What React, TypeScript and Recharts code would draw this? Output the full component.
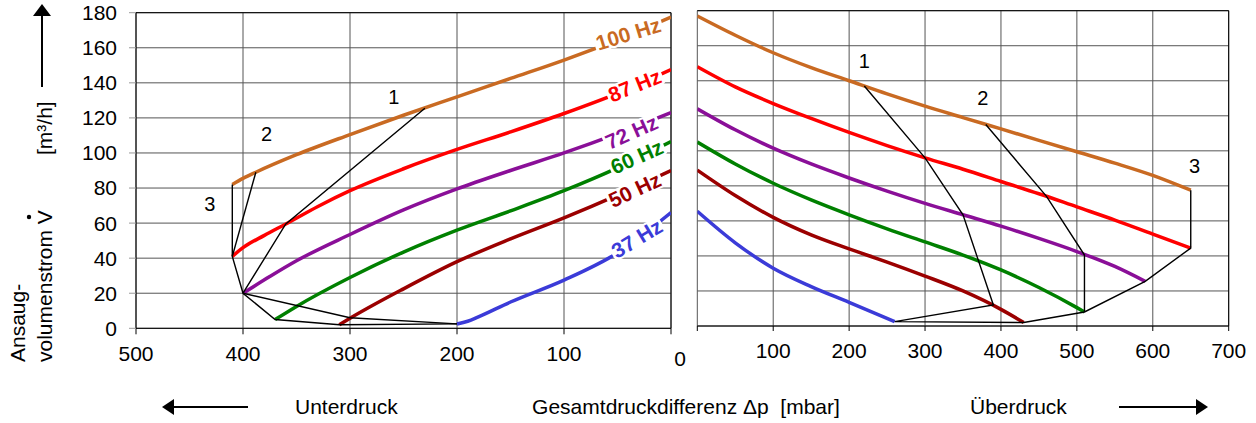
import React from 'react';
import { LineChart, Line, XAxis, YAxis, CartesianGrid, ReferenceLine, ReferenceDot } from 'recharts';

const FONT = '"Liberation Sans", Arial, Helvetica, sans-serif';

// frequencies (curve names) and colours
const freqs = ['100 Hz', '87 Hz', '72 Hz', '60 Hz', '50 Hz', '37 Hz'];
const colors = ['#C96A22', '#FF0000', '#8A0F98', '#008000', '#9B0000', '#3B3BD8'];

// axis ticks
const yTicks = [0, 20, 40, 60, 80, 100, 120, 140, 160, 180];
const vacTicks = [0, 100, 200, 300, 400, 500];
const presTicks = [0, 100, 200, 300, 400, 500, 600, 700];

// Unterdruck (left panel) – x = pressure difference in mbar, y = m³/h
const vac100X = [410, 400, 388, 350, 300, 250, 200, 150, 100, 50, 0];
const vac100Y = [82, 85.5, 89, 99, 110.5, 121.5, 132, 142.5, 153, 164.5, 177.5];
const vac87X = [410, 400, 380, 360, 330, 300, 250, 200, 150, 100, 50, 0];
const vac87Y = [41, 46, 53, 59.5, 69.5, 78.5, 91, 102, 112, 122.5, 134, 147.5];
const vac72X = [400, 375, 350, 300, 250, 200, 150, 100, 50, 0];
const vac72Y = [20, 29.5, 38.5, 53.5, 67.5, 79.5, 90, 100, 111, 123];
const vac60X = [370, 350, 300, 250, 200, 150, 100, 50, 0];
const vac60Y = [5, 12.5, 29, 43.5, 56, 67, 78.5, 91.5, 106.5];
const vac50X = [310, 300, 250, 200, 150, 100, 50, 0];
const vac50Y = [2, 5.7, 22.5, 38, 51, 63, 76, 90];
const vac37X = [200, 190, 180, 150, 100, 50, 0];
const vac37Y = [2.5, 4, 6.5, 15, 27.5, 43, 66];

// Überdruck (right panel)
const pres100X = [0, 50, 100, 150, 200, 250, 300, 350, 400, 450, 500, 550, 600, 650];
const pres100Y = [177, 166, 156, 147.5, 140, 132.5, 125.5, 119, 112.5, 106, 99.5, 93, 86, 77.5];
const pres87X = [0, 50, 100, 150, 200, 250, 300, 350, 400, 450, 500, 550, 600, 650];
const pres87Y = [148, 136.5, 127, 118.5, 110.5, 103, 96, 89.5, 82.5, 75.5, 68, 60.5, 52.5, 44.5];
const pres72X = [0, 50, 100, 150, 200, 250, 300, 350, 400, 450, 500, 550, 590];
const pres72Y = [124, 112, 101.5, 92.5, 84.5, 77, 70, 63.5, 57, 50, 42.5, 34, 25.5];
const pres60X = [0, 50, 100, 150, 200, 250, 300, 350, 400, 450, 500, 510];
const pres60Y = [105, 92.5, 81.5, 72, 63.5, 55.5, 48, 40.5, 32, 22, 10.5, 8];
const pres50X = [0, 50, 100, 150, 200, 250, 300, 350, 400, 430];
const pres50Y = [89, 74.5, 62, 52, 44, 36.5, 28.5, 20, 9.5, 2];
const pres37X = [0, 50, 100, 150, 200, 260];
const pres37Y = [65.5, 47.5, 33, 22.5, 13.5, 2.5];

// black operating-limit lines, left
const vacL1X = [230, 360, 400];
const vacL1Y = [125.5, 59.5, 20];
const vacL2X = [388, 410];
const vacL2Y = [89, 41];
const vacL3X = [410, 410, 400, 370, 310, 200];
const vacL3Y = [82, 41, 20, 5, 2, 2.5];
const vacL4X = [400, 300, 200];
const vacL4Y = [20, 6, 2.5];

// black operating-limit lines, right
const presL1X = [220, 300, 350, 390, 260, 430, 510, 590, 650, 650];
const presL1Y = [137, 96, 63.5, 12, 2.5, 2, 8, 25.5, 44.5, 77.5];
const presL2X = [380, 460, 510, 510];
const presL2Y = [115, 74, 40.5, 8];

// region numbers
const markText = ['1', '2', '3'];
const vacMarkX = [259, 378, 431];
const vacMarkY = [132, 111, 71];
const presMarkX = [220, 376, 655];
const presMarkY = [151, 130, 91.5];

// frequency labels on the left panel (data coords)
const hzLabelX = [40, 34, 37, 32, 34, 32];
const hzLabelY = [168, 138.5, 112, 97.8, 79, 51.3];
const hzAngle = [17, 22, 24, 24, 25, 31];

const pts = (xs: number[], ys: number[]) => xs.map((x, i) => ({ x, y: ys[i] }));

const vacCurves = [
  pts(vac100X, vac100Y), pts(vac87X, vac87Y), pts(vac72X, vac72Y),
  pts(vac60X, vac60Y), pts(vac50X, vac50Y), pts(vac37X, vac37Y),
];
const presCurves = [
  pts(pres100X, pres100Y), pts(pres87X, pres87Y), pts(pres72X, pres72Y),
  pts(pres60X, pres60Y), pts(pres50X, pres50Y), pts(pres37X, pres37Y),
];
const vacLimits = [pts(vacL1X, vacL1Y), pts(vacL2X, vacL2Y), pts(vacL3X, vacL3Y), pts(vacL4X, vacL4Y)];
const presLimits = [pts(presL1X, presL1Y), pts(presL2X, presL2Y)];

const FS = 21;
const tickStyle = { fontSize: FS, fill: '#000', fontFamily: FONT };
const hideZero = (v: number) => (v === 0 ? '' : String(v));

// rough bold Arial advance widths, for the white box behind the Hz labels
const boldWidth = (s: string) =>
  s.split('').reduce((w, c) => w + (c === ' ' ? 0.278 : c === 'H' ? 0.722 : c === 'z' ? 0.5 : 0.556), 0);

function markShape(text: string) {
  return (p: any) => (
    <text x={p.cx} y={p.cy} textAnchor="middle" dominantBaseline="central" fontSize={20} fontFamily={FONT} fill="#000">
      {text}
    </text>
  );
}

function hzShape(text: string, color: string, angle: number) {
  const fs = 21;
  const w = boldWidth(text) * fs;
  return (p: any) => (
    <g transform={`translate(${p.cx} ${p.cy}) rotate(${-angle})`}>
      <rect x={-w / 2 - 2} y={-fs * 0.42} width={w + 4} height={fs * 0.84} fill="#fff" />
      <text
        x={0}
        y={0}
        textAnchor="middle"
        dominantBaseline="central"
        fontSize={fs}
        fontWeight="bold"
        fontFamily={FONT}
        fill={color}
        stroke="#fff"
        strokeWidth={4}
        strokeLinejoin="round"
        style={{ paintOrder: 'stroke' }}
      >
        {text}
      </text>
    </g>
  );
}

export default function App() {
  return (
    <div style={{ position: 'absolute', left: 0, top: 0, width: 1256, height: 423, background: '#fff', fontFamily: FONT }}>
      {/* Unterdruck */}
      <div style={{ position: 'absolute', left: 0, top: 0 }}>
        <LineChart width={680} height={380} margin={{ top: 12.7, right: 9, bottom: 21.7, left: 0 }}>
          <CartesianGrid stroke="#555" />
          <XAxis
            type="number"
            dataKey="x"
            domain={[0, 500]}
            reversed
            ticks={vacTicks}
            interval={0}
            height={30}
            tickSize={6}
            tickMargin={12}
            tick={tickStyle}
            tickFormatter={hideZero}
            axisLine={{ stroke: '#000' }}
            tickLine={{ stroke: '#000' }}
            allowDataOverflow
          />
          <YAxis
            type="number"
            domain={[0, 180]}
            ticks={yTicks}
            interval={0}
            width={136}
            tickSize={7}
            tickMargin={12}
            tick={tickStyle}
            axisLine={{ stroke: '#000' }}
            tickLine={{ stroke: '#999' }}
          />
          <ReferenceLine y={180} stroke="#000" />
          <ReferenceLine x={0} stroke="#000" />
          {vacCurves.map((d, i) => (
            <Line key={'v' + i} data={d} dataKey="y" type="monotone" stroke={colors[i]} strokeWidth={3.5} dot={false} isAnimationActive={false} />
          ))}
          {vacLimits.map((d, i) => (
            <Line key={'vl' + i} data={d} dataKey="y" type="linear" stroke="#000" strokeWidth={1.4} dot={false} isAnimationActive={false} />
          ))}
          {freqs.map((f, i) => (
            <ReferenceDot key={'hz' + i} x={hzLabelX[i]} y={hzLabelY[i]} r={0} shape={hzShape(f, colors[i], hzAngle[i])} />
          ))}
          {markText.map((t, i) => (
            <ReferenceDot key={'vm' + i} x={vacMarkX[i]} y={vacMarkY[i]} r={0} shape={markShape(t)} />
          ))}
        </LineChart>
      </div>

      {/* Überdruck */}
      <div style={{ position: 'absolute', left: 690, top: 0 }}>
        <LineChart width={560} height={380} margin={{ top: 10.7, right: 21.3, bottom: 24, left: 7.3 }}>
          <CartesianGrid stroke="#555" />
          <XAxis
            type="number"
            dataKey="x"
            domain={[0, 700]}
            ticks={presTicks}
            interval={0}
            height={30}
            tickSize={5}
            tickMargin={12}
            tick={tickStyle}
            tickFormatter={hideZero}
            axisLine={{ stroke: '#000' }}
            tickLine={{ stroke: '#000' }}
            allowDataOverflow
          />
          <YAxis type="number" domain={[0, 180]} ticks={yTicks} hide />
          <ReferenceLine y={180} stroke="#000" />
          <ReferenceLine x={700} stroke="#000" />
          {presCurves.map((d, i) => (
            <Line key={'p' + i} data={d} dataKey="y" type="monotone" stroke={colors[i]} strokeWidth={3.5} dot={false} isAnimationActive={false} />
          ))}
          {presLimits.map((d, i) => (
            <Line key={'pl' + i} data={d} dataKey="y" type="linear" stroke="#000" strokeWidth={1.4} dot={false} isAnimationActive={false} />
          ))}
          {markText.map((t, i) => (
            <ReferenceDot key={'pm' + i} x={presMarkX[i]} y={presMarkY[i]} r={0} shape={markShape(t)} />
          ))}
        </LineChart>
      </div>

      {/* titles and arrows */}
      <svg width={1256} height={423} style={{ position: 'absolute', left: 0, top: 0, pointerEvents: 'none' }}>
        <g fontFamily={FONT} fontSize={FS} fill="#000">
          <line x1={42} y1={87} x2={42} y2={14} stroke="#000" strokeWidth={2} />
          <polygon points="33,16 51,16 42,4" fill="#000" />
          <text transform="translate(52 155) rotate(-90)">[m³/h]</text>
          <text transform="translate(52 362) rotate(-90)">volumenstrom V</text>
          <circle cx={29} cy={217} r={2.2} fill="#000" />
          <text transform="translate(25 362) rotate(-90)">Ansaug-</text>

          <text x={680} y={366} textAnchor="middle">0</text>

          <line x1={172} y1={407} x2={248} y2={407} stroke="#000" strokeWidth={2} />
          <polygon points="162,407 174,399 174,415" fill="#000" />
          <text x={295} y={414}>Unterdruck</text>
          <text x={686} y={414} textAnchor="middle">{'Gesamtdruckdifferenz Δp\u00A0\u00A0[mbar]'}</text>
          <text x={970} y={414}>Überdruck</text>
          <line x1={1119} y1={407} x2={1197} y2={407} stroke="#000" strokeWidth={2} />
          <polygon points="1208,407 1196,399 1196,415" fill="#000" />
        </g>
      </svg>
    </div>
  );
}
